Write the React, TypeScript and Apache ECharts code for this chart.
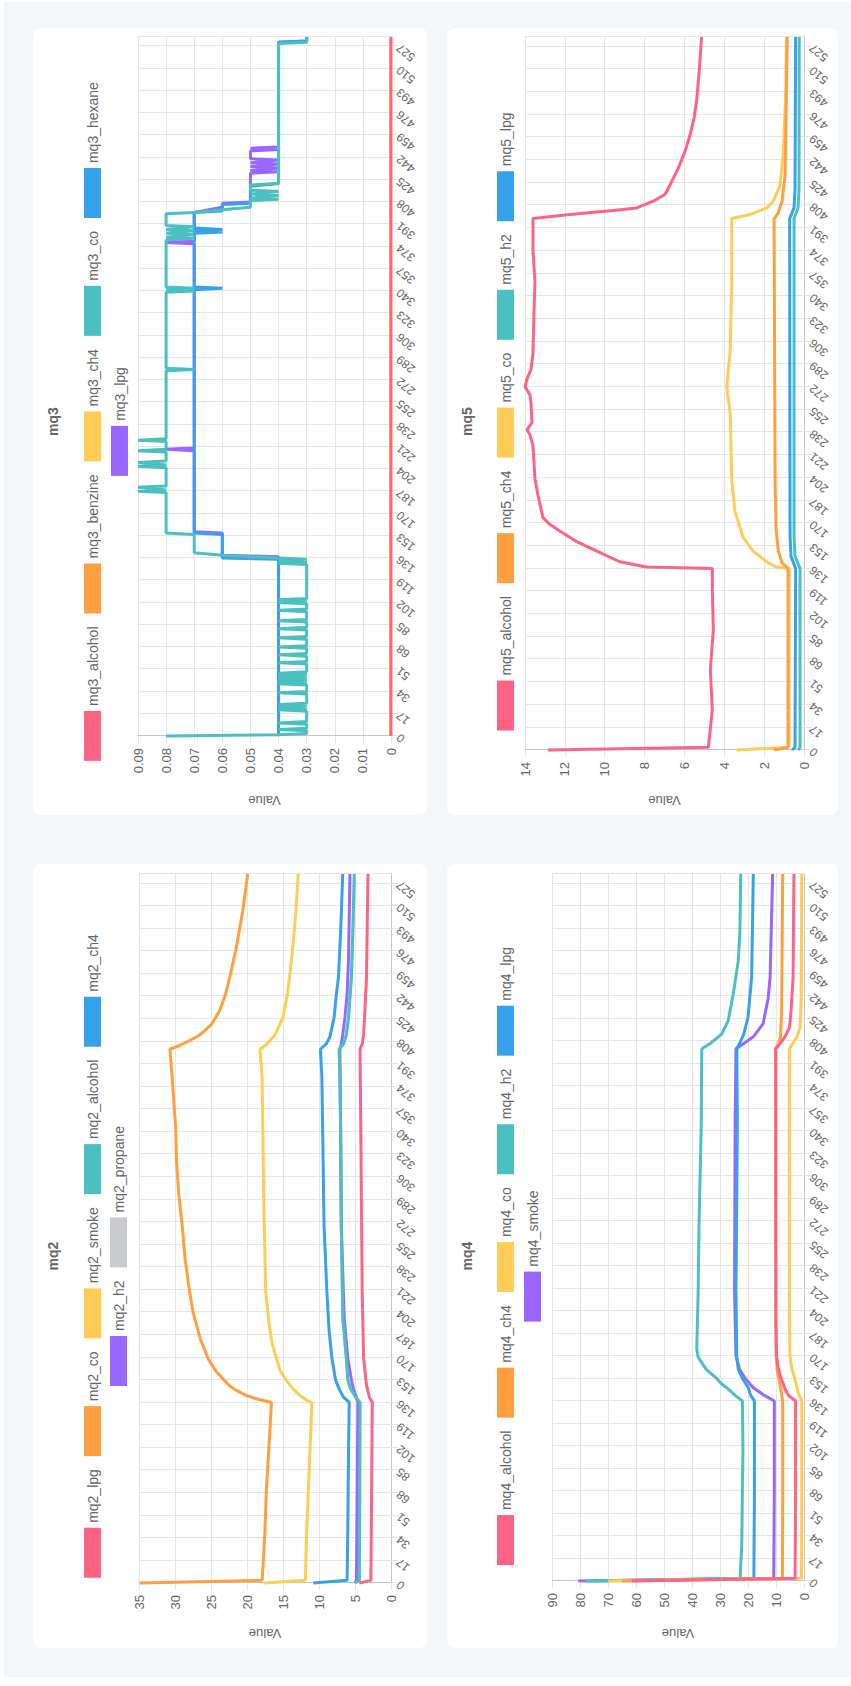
import React, { useEffect, useRef } from "react";
import * as echarts from "echarts";

type Pt = [number, number];

const FONT = "'Liberation Sans', Arial, Helvetica, sans-serif";
const PINK = "#ff6384";
const ORANGE = "#ff9f40";
const YELLOW = "#ffcd56";
const TEAL = "#4bc0c0";
const BLUE = "#36a2eb";
const PURPLE = "#9966ff";
const GREY = "#c9cbcf";
const PALETTE = [PINK, ORANGE, YELLOW, TEAL, BLUE, PURPLE, GREY];

// category index range (labels every 17 samples)
const CAT_MAX = 534;
const CAT_STEP = 17;

// ---------------- mq2 ----------------
const mq2_lpg: Pt[] = [[0,4.4],[2,2.8],[60,2.7],[136,2.6],[140,3.0],[149,3.4],[169,3.8],[219,4.0],[344,4.2],[402,4.3],[406,4.0],[413,3.8],[456,3.4],[534,3.2]];
const mq2_co: Pt[] = [[0,34.9],[2,17.9],[10,17.8],[40,17.5],[71,17.3],[107,16.9],[136,16.6],[138,18.2],[141,20],[146,21.8],[149,22.5],[153,23.2],[160,24.4],[169,25.4],[184,26.5],[204,27.5],[224,28.1],[244,28.6],[269,29.0],[294,29.5],[319,29.8],[344,29.9],[357,30.1],[381,30.4],[402,30.7],[405,29.3],[409,27.8],[413,26.5],[421,24.9],[431,23.8],[443,23.0],[456,22.4],[481,21.4],[506,20.6],[534,19.9]];
const mq2_smoke: Pt[] = [[0,17.6],[2,11.9],[40,11.7],[80,11.4],[120,11.1],[136,11.0],[138,11.8],[141,12.6],[146,13.6],[153,14.6],[160,15.4],[169,15.9],[180,16.5],[194,16.9],[219,17.4],[244,17.5],[294,17.7],[344,17.8],[381,17.9],[402,18.2],[406,17.2],[413,16.1],[426,15.0],[443,14.4],[460,14.0],[481,13.6],[506,13.2],[534,12.9]];
const mq2_alcohol: Pt[] = [[0,5.0],[2,4.4],[60,4.35],[136,4.3],[140,4.9],[146,5.6],[153,6.0],[169,6.2],[200,6.7],[269,6.9],[344,7.0],[381,7.1],[402,7.2],[406,6.6],[413,6.2],[426,5.9],[456,5.5],[490,5.3],[534,5.1]];
const mq2_ch4: Pt[] = [[0,10.8],[2,6.1],[40,6.0],[100,5.9],[136,5.8],[140,6.6],[146,7.2],[153,7.7],[169,8.2],[190,8.6],[219,8.9],[269,9.3],[344,9.5],[381,9.6],[402,9.8],[406,9.0],[411,8.5],[426,7.9],[443,7.6],[456,7.3],[490,7.0],[534,6.7]];
const mq2_h2: Pt[] = [[0,5.0],[2,4.8],[60,4.7],[136,4.6],[140,4.8],[146,5.2],[153,5.5],[169,6.0],[200,6.5],[269,6.9],[344,7.0],[402,7.1],[406,6.9],[413,6.7],[426,6.4],[443,6.1],[470,5.9],[534,5.7]];
const mq2_propane: Pt[] = [[0,5.0],[2,4.4],[60,4.35],[136,4.3],[140,4.9],[146,5.6],[153,6.0],[169,6.2],[200,6.7],[269,6.9],[344,7.0],[381,7.1],[402,7.2],[406,6.6],[413,6.2],[426,5.9],[456,5.5],[490,5.3],[534,5.1]];

// ---------------- mq3 ----------------
const mq3_alcohol: Pt[] = [[0,0],[534,0]];
const mq3_benzine: Pt[] = [[0,0],[534,0]];
const mq3_ch4: Pt[] = [[0,0],[534,0]];
const mq3_co: Pt[] = [
  [0,0.08],[1,0.04],[2,0.03],
  [4,0.03],[5,0.04],[6,0.03],
  [9,0.03],[10,0.04],[11,0.03],
  [19,0.03],[20,0.04],[21,0.03],[22,0.04],[23,0.03],[24,0.04],[25,0.03],
  [32,0.03],[33,0.04],[34,0.03],
  [39,0.03],[40,0.04],[41,0.03],[42,0.04],[43,0.03],[44,0.04],[45,0.03],[46,0.04],[47,0.03],[48,0.04],[49,0.03],
  [55,0.03],[56,0.04],[57,0.03],
  [61,0.03],[62,0.04],[63,0.03],
  [67,0.03],[68,0.04],[69,0.03],
  [74,0.03],[75,0.04],[76,0.03],
  [81,0.03],[82,0.04],[83,0.03],
  [87,0.03],[88,0.04],[89,0.03],
  [95,0.03],[96,0.04],[97,0.03],
  [101,0.03],[102,0.04],[103,0.03],[104,0.04],[105,0.03],
  [131,0.03],[132,0.04],[133,0.03],[134,0.04],[135,0.03],
  [136,0.04],[137,0.05],[138,0.06],[140,0.07],[154,0.07],[155,0.08],
  [186,0.08],[187,0.09],[188,0.08],[190,0.09],[191,0.08],
  [205,0.08],[206,0.09],[207,0.08],[209,0.09],[210,0.08],
  [217,0.08],[218,0.09],[219,0.08],
  [225,0.08],[226,0.09],[227,0.08],
  [279,0.08],[280,0.07],[281,0.08],
  [339,0.08],[340,0.07],[341,0.08],[342,0.07],[343,0.08],
  [379,0.08],[380,0.07],[381,0.08],[383,0.07],[384,0.08],[386,0.07],[387,0.08],[389,0.07],[390,0.08],
  [399,0.08],[400,0.07],[402,0.06],[404,0.05],
  [409,0.05],[410,0.04],[411,0.05],[413,0.04],[414,0.05],[416,0.04],[417,0.05],[421,0.05],[422,0.04],
  [529,0.04],[530,0.03],[534,0.03]
];
const mq3_hexane: Pt[] = [
  [0,0.04],[135,0.04],[136,0.06],[154,0.06],[155,0.07],
  [341,0.07],[342,0.06],[343,0.07],
  [384,0.07],[385,0.06],[386,0.07],[387,0.06],[388,0.07],
  [400,0.07],[401,0.06],[406,0.06],[407,0.05],[420,0.05],[422,0.04],[530,0.04],[531,0.03],[534,0.03]
];
const mq3_lpg: Pt[] = [
  [0,0.04],[137,0.04],[138,0.06],[155,0.06],[156,0.07],
  [218,0.07],[219,0.08],[220,0.07],
  [376,0.07],[377,0.08],[378,0.07],
  [400,0.07],[404,0.06],[407,0.06],[408,0.05],
  [430,0.05],[431,0.04],[432,0.05],[434,0.04],[435,0.05],[437,0.04],[438,0.05],[440,0.04],[441,0.05],
  [447,0.05],[448,0.04],[449,0.05],[450,0.04],
  [530,0.04],[531,0.03],[534,0.03]
];

// ---------------- mq4 ----------------
const mq4_alcohol: Pt[] = [[0,61.5],[2,3.2],[60,3.0],[136,3.0],[140,5.5],[146,7.0],[149,7.4],[155,8.5],[162,9.3],[170,9.8],[200,10.1],[300,10.1],[402,10.1],[406,8.5],[411,6.8],[418,5.2],[431,4.6],[456,3.9],[534,3.6]];
const mq4_ch4: Pt[] = [[0,65],[2,7.7],[60,7.6],[136,7.6],[146,8.4],[160,9.6],[175,10.0],[402,10.1],[406,9.0],[411,8.4],[430,8.0],[534,7.6]];
const mq4_co: Pt[] = [[0,70],[2,0.9],[60,0.8],[136,0.8],[142,2.0],[149,2.8],[160,4.3],[170,5.0],[200,5.2],[402,5.2],[406,4.0],[411,2.5],[418,1.4],[440,1.0],[534,0.8]];
const mq4_h2: Pt[] = [[0,78],[2,22.8],[30,22.2],[70,22.0],[100,21.8],[136,22.0],[140,24.5],[146,27.6],[149,29.5],[153,31.2],[160,35.0],[169,37.8],[175,38.3],[219,37.8],[269,37.5],[344,36.7],[380,36.6],[402,36.5],[406,33.5],[413,29.4],[423,27.1],[443,25.3],[468,23.5],[490,22.9],[534,22.6]];
const mq4_lpg: Pt[] = [[0,75],[2,17.9],[70,17.7],[136,17.7],[140,19.0],[146,19.9],[153,22.0],[160,23.5],[169,24.0],[219,24.3],[344,23.8],[402,24.0],[406,23.0],[413,21.5],[426,20.0],[456,18.7],[534,18.1]];
const mq4_smoke: Pt[] = [[0,80.6],[2,10.8],[70,10.6],[136,10.6],[140,14.0],[146,18.1],[153,21.0],[160,23.0],[170,24.3],[219,24.8],[344,24.6],[402,24.3],[406,21.5],[411,18.1],[421,14.6],[440,12.8],[456,12.1],[534,11.2]];

// ---------------- mq5 ----------------
const mq5_alcohol: Pt[] = [[0,12.85],[2,4.8],[30,4.6],[60,4.7],[90,4.55],[120,4.6],[136,4.6],[137,7.9],[141,9.25],[149,10.4],[156,11.4],[164,12.26],[169,12.76],[174,13.1],[191,13.35],[203,13.5],[228,13.6],[236,13.75],[240,13.9],[245,13.65],[260,13.7],[266,13.75],[272,14.0],[278,13.9],[285,13.7],[297,13.6],[327,13.55],[351,13.5],[374,13.6],[398,13.6],[401,11.75],[404,9.58],[406,8.4],[411,7.57],[416,6.98],[423,6.73],[436,6.3],[448,5.98],[460,5.73],[473,5.52],[486,5.39],[510,5.25],[534,5.14]];
const mq5_ch4: Pt[] = [[0,1.5],[2,0.8],[136,0.8],[140,1.1],[149,1.29],[165,1.4],[200,1.45],[398,1.5],[402,1.3],[411,1.1],[430,0.95],[534,0.84]];
const mq5_co: Pt[] = [[0,3.38],[2,0.75],[136,0.75],[137,1.4],[141,1.87],[149,2.55],[159,3.05],[179,3.47],[203,3.63],[252,3.7],[272,3.88],[300,3.7],[351,3.63],[398,3.63],[401,2.71],[406,1.87],[411,1.54],[423,1.2],[448,1.04],[490,0.92],[534,0.88]];
const mq5_h2: Pt[] = [[0,0.3],[2,0.2],[136,0.2],[145,0.45],[160,0.5],[398,0.5],[406,0.3],[420,0.25],[534,0.24]];
const mq5_lpg: Pt[] = [[0,0.6],[2,0.45],[136,0.42],[145,0.65],[160,0.7],[398,0.72],[406,0.5],[420,0.45],[534,0.42]];

interface PanelCfg {
  title: string;
  names: string[];
  data: Pt[][];
  rows: string[][];
  yMax: number;
  yInterval: number;
  left: number;
  top: number;
  width: number;
  height: number;
  grid: { left: number; top: number; right: number; bottom: number };
  legendTops: number[];
  nameGap: number;
}

const PANELS: PanelCfg[] = [
  {
    title: "mq2",
    names: ["mq2_lpg", "mq2_co", "mq2_smoke", "mq2_alcohol", "mq2_ch4", "mq2_h2", "mq2_propane"],
    data: [mq2_lpg, mq2_co, mq2_smoke, mq2_alcohol, mq2_ch4, mq2_h2, mq2_propane],
    rows: [["mq2_lpg", "mq2_co", "mq2_smoke", "mq2_alcohol", "mq2_ch4"], ["mq2_h2", "mq2_propane"]],
    yMax: 35, yInterval: 5,
    left: 38, top: 33, width: 784, height: 394,
    grid: { left: 59, top: 106, right: 10, bottom: 36 },
    legendTops: [51, 77],
    nameGap: 44,
  },
  {
    title: "mq3",
    names: ["mq3_alcohol", "mq3_benzine", "mq3_ch4", "mq3_co", "mq3_hexane", "mq3_lpg"],
    data: [mq3_alcohol, mq3_benzine, mq3_ch4, mq3_co, mq3_hexane, mq3_lpg],
    rows: [["mq3_alcohol", "mq3_benzine", "mq3_ch4", "mq3_co", "mq3_hexane"], ["mq3_lpg"]],
    yMax: 0.09, yInterval: 0.01,
    left: 871, top: 33, width: 787, height: 394,
    grid: { left: 73, top: 105, right: 9, bottom: 36 },
    legendTops: [51, 78],
    nameGap: 58,
  },
  {
    title: "mq4",
    names: ["mq4_alcohol", "mq4_ch4", "mq4_co", "mq4_h2", "mq4_lpg", "mq4_smoke"],
    data: [mq4_alcohol, mq4_ch4, mq4_co, mq4_h2, mq4_lpg, mq4_smoke],
    rows: [["mq4_alcohol", "mq4_ch4", "mq4_co", "mq4_h2", "mq4_lpg"], ["mq4_smoke"]],
    yMax: 90, yInterval: 10,
    left: 38, top: 447, width: 784, height: 391,
    grid: { left: 59, top: 105, right: 10, bottom: 34 },
    legendTops: [50, 77],
    nameGap: 46,
  },
  {
    title: "mq5",
    names: ["mq5_alcohol", "mq5_ch4", "mq5_co", "mq5_h2", "mq5_lpg"],
    data: [mq5_alcohol, mq5_ch4, mq5_co, mq5_h2, mq5_lpg],
    rows: [["mq5_alcohol", "mq5_ch4", "mq5_co", "mq5_h2", "mq5_lpg"]],
    yMax: 14, yInterval: 2,
    left: 871, top: 447, width: 787, height: 391,
    grid: { left: 61, top: 78, right: 9, bottom: 34 },
    legendTops: [50],
    nameGap: 44,
  },
];

const GRID_COLOR = "#e6e6e6";
const AXIS_COLOR = "#c6c6c6";
const TEXT_COLOR = "#666";

function buildOption(cfg: PanelCfg): any {
  const n = cfg.names.length;
  return {
    animation: false,
    textStyle: { fontFamily: FONT },
    title: {
      text: cfg.title,
      left: "center",
      top: 13,
      padding: 0,
      textStyle: { fontSize: 14, fontWeight: "bold", color: TEXT_COLOR, fontFamily: FONT },
    },
    legend: cfg.rows.map((row, r) => ({
      data: row,
      top: cfg.legendTops[r],
      left: "center",
      padding: 0,
      icon: "rect",
      itemWidth: 50,
      itemHeight: 17,
      itemGap: 13,
      selectedMode: false,
      textStyle: { fontSize: 14, color: TEXT_COLOR, fontFamily: FONT },
    })),
    grid: { ...cfg.grid, containLabel: false },
    xAxis: {
      type: "value",
      min: 0,
      max: CAT_MAX,
      interval: CAT_STEP,
      axisLine: { show: true, lineStyle: { color: AXIS_COLOR, width: 1 } },
      axisTick: { show: true, length: 7, lineStyle: { color: GRID_COLOR } },
      axisLabel: { rotate: 50, margin: 7, fontSize: 12, color: TEXT_COLOR, showMaxLabel: false, fontFamily: FONT },
      splitLine: { show: true, lineStyle: { color: GRID_COLOR, width: 1 } },
    },
    yAxis: {
      type: "value",
      min: 0,
      max: cfg.yMax,
      interval: cfg.yInterval,
      name: "Value",
      nameLocation: "middle",
      nameGap: cfg.nameGap,
      nameTextStyle: { fontSize: 13, color: TEXT_COLOR, fontFamily: FONT },
      axisLine: { show: true, lineStyle: { color: AXIS_COLOR, width: 1 } },
      axisTick: { show: true, length: 7, lineStyle: { color: GRID_COLOR } },
      axisLabel: { margin: 12, fontSize: 13, color: TEXT_COLOR, fontFamily: FONT },
      splitLine: { show: true, lineStyle: { color: GRID_COLOR, width: 1 } },
    },
    series: cfg.names.map((name, i) => ({
      name,
      type: "line",
      data: cfg.data[i],
      showSymbol: false,
      symbol: "none",
      z: 2 + (n - i),
      lineStyle: { width: 3, color: PALETTE[i] },
      itemStyle: { color: PALETTE[i] },
      emphasis: { disabled: true },
    })),
  };
}

function Panel({ cfg }: { cfg: PanelCfg }) {
  const ref = useRef<HTMLDivElement>(null);
  useEffect(() => {
    if (!ref.current) return;
    const chart = echarts.init(ref.current, undefined, { renderer: "svg" });
    chart.setOption(buildOption(cfg));
    return () => chart.dispose();
  }, [cfg]);
  return (
    <div
      style={{
        position: "absolute",
        left: cfg.left,
        top: cfg.top,
        width: cfg.width,
        height: cfg.height,
        background: "#fff",
        borderRadius: 8,
        overflow: "hidden",
      }}
    >
      <div ref={ref} style={{ width: cfg.width, height: cfg.height }} />
    </div>
  );
}

export default function App() {
  return (
    <div
      style={{
        position: "absolute",
        left: 0,
        top: 0,
        width: 851,
        height: 1686,
        overflow: "hidden",
        background: "#fff",
      }}
    >
      <div
        style={{
          position: "absolute",
          left: 0,
          top: 0,
          width: 1686,
          height: 851,
          transformOrigin: "0 0",
          transform: "translate(0px, 1686px) rotate(-90deg)",
        }}
      >
        <div style={{ position: "absolute", left: 9, top: 4, width: 1675, height: 847, background: "#f3f7fa" }} />
        {PANELS.map((p) => (
          <Panel key={p.title} cfg={p} />
        ))}
      </div>
    </div>
  );
}
